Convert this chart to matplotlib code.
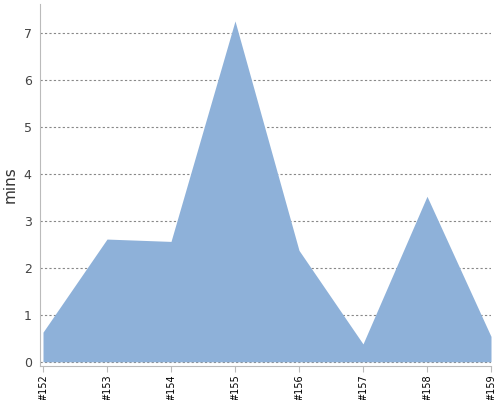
import matplotlib
matplotlib.use("Agg")
import matplotlib.pyplot as plt

# data
builds = ["#152", "#153", "#154", "#155", "#156", "#157", "#158", "#159"]
mins = [0.63, 2.61, 2.56, 7.25, 2.37, 0.38, 3.52, 0.54]

fig = plt.figure(figsize=(5, 4), dpi=100)
ax = fig.add_axes([0.08, 0.085, 0.902, 0.905])

x = list(range(len(builds)))
ax.fill_between(x, 0, mins, color="#8eb1d9", linewidth=0, zorder=2)

ax.set_xlim(-0.047, len(builds) - 1)
ax.set_ylim(-0.09, 7.61)
ax.set_yticks(range(0, 8))
ax.set_xticks(x)
ax.set_xticklabels(builds, rotation=90, fontsize=7)
ax.tick_params(axis="y", labelsize=9, colors="#444444", length=0, pad=6)
ax.tick_params(axis="x", colors="#bbbbbb", labelcolor="black", length=4, pad=2)

ax.yaxis.grid(True, linestyle=(0, (2, 2)), color="#888888", linewidth=0.8, zorder=1)
ax.set_axisbelow(True)

for side in ("top", "right"):
    ax.spines[side].set_visible(False)
ax.spines["left"].set_color("#bbbbbb")
ax.spines["bottom"].set_color("#bbbbbb")

ax.set_ylabel("mins", fontsize=11, color="#333333", labelpad=4)

fig.savefig("out.png")
